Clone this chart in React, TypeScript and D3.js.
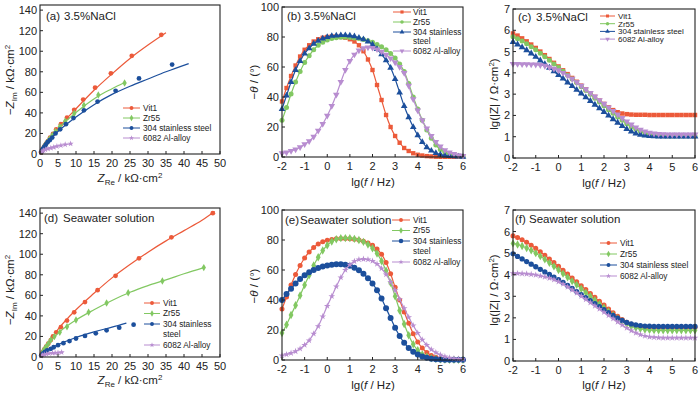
import React from "react";
import * as d3 from "d3";

const RED = "#ec5a3a";
const GREEN = "#82c862";
const BLUE = "#1c4f9c";
const PURPLE = "#b88dd0";
const INK = "#222";
const FONT = "'Liberation Sans', Arial, sans-serif";

const names = ["Vit1", "Zr55", "304 stainless steel", "6082 Al-alloy"];

// lg(f / Hz) sample points used for the Bode plots
const lgF = [
	-2, -1.8, -1.6, -1.4, -1.2, -1, -0.8, -0.6, -0.4, -0.2, 0, 0.2, 0.4, 0.6, 0.8, 1, 1.2, 1.4, 1.6, 1.8, 2,
	2.2, 2.4, 2.6, 2.8, 3, 3.2, 3.4, 3.6, 3.8, 4, 4.2, 4.4, 4.6, 4.8, 5, 5.2, 5.4, 5.6, 5.8, 6,
];

// (b) phase, 3.5% NaCl
const phaseNaClVit1 = [37, 46, 54, 61, 67, 71.5, 74.5, 77, 78.5, 79.5, 80, 80.3, 80.3, 80, 79.5, 78.5, 77, 74.5, 70.5, 65, 58, 48, 38, 28, 20, 14, 9.5, 6, 4, 2.5, 1.5, 1, 0.6, 0.4, 0.2, 0.1, 0.1, 0.1, 0.1, 0.1, 0.1];
const phaseNaClZr55 = [24.5, 33, 42, 50, 57, 63, 67.5, 71.5, 74.5, 76.5, 78, 79, 79.5, 79.8, 79.8, 79.7, 79.4, 79, 78.3, 77.5, 76.5, 75, 73.5, 71.5, 69, 66, 62, 57, 49, 40, 32, 24.5, 18, 12.5, 8, 5, 3, 1.8, 1, 0.6, 0.3];
const phaseNaCl304 = [32, 41, 50, 58, 64, 69, 72.5, 75.5, 77.5, 79, 80, 80.7, 81, 81.2, 81.2, 81, 80.5, 79.5, 78.5, 77, 75, 72, 68.5, 64.5, 59.5, 52, 43, 34, 26.5, 20, 14.5, 10, 6.5, 4.2, 2.6, 1.6, 1, 0.6, 0.4, 0.25, 0.15];
const phaseNaCl6082 = [2.5, 3, 4, 5, 6.5, 8.5, 10.5, 13.5, 17.5, 22, 27.5, 34, 41.5, 50, 58, 64, 68.3, 71, 72.5, 73, 72.8, 71.8, 70.2, 68.2, 65.8, 63, 60, 56, 47.5, 38.5, 31, 24.5, 19, 14, 10, 7, 4.5, 3, 2, 1.3, 0.8];

// (c) lg|Z|, 3.5% NaCl
const modNaClVit1 = [5.85, 5.75, 5.62, 5.48, 5.33, 5.17, 5.0, 4.83, 4.65, 4.47, 4.3, 4.12, 3.94, 3.76, 3.58, 3.4, 3.22, 3.04, 2.87, 2.7, 2.54, 2.38, 2.25, 2.15, 2.09, 2.06, 2.04, 2.03, 2.03, 2.03, 2.02, 2.02, 2.02, 2.02, 2.02, 2.02, 2.02, 2.02, 2.02, 2.02, 2.02];
const modNaClZr55 = [5.7, 5.6, 5.5, 5.37, 5.23, 5.08, 4.92, 4.76, 4.59, 4.42, 4.25, 4.07, 3.89, 3.71, 3.53, 3.35, 3.17, 2.99, 2.81, 2.63, 2.45, 2.27, 2.1, 1.93, 1.77, 1.61, 1.47, 1.35, 1.25, 1.17, 1.11, 1.07, 1.05, 1.04, 1.03, 1.03, 1.03, 1.03, 1.03, 1.03, 1.03];
const modNaCl304 = [5.45, 5.33, 5.2, 5.06, 4.91, 4.75, 4.58, 4.41, 4.24, 4.07, 3.9, 3.73, 3.55, 3.38, 3.2, 3.03, 2.85, 2.68, 2.5, 2.33, 2.16, 1.99, 1.82, 1.66, 1.5, 1.36, 1.24, 1.15, 1.09, 1.05, 1.03, 1.02, 1.01, 1.01, 1.01, 1.01, 1.01, 1.01, 1.01, 1.01, 1.01];
const modNaCl6082 = [4.42, 4.42, 4.41, 4.41, 4.4, 4.39, 4.37, 4.33, 4.27, 4.2, 4.12, 4.0, 3.87, 3.72, 3.56, 3.4, 3.23, 3.06, 2.89, 2.72, 2.55, 2.38, 2.21, 2.04, 1.88, 1.72, 1.57, 1.44, 1.33, 1.25, 1.19, 1.15, 1.13, 1.12, 1.11, 1.1, 1.1, 1.1, 1.1, 1.1, 1.1];

// (e) phase, seawater
const phaseSeaVit1 = [34, 42, 50, 57, 63, 68, 72, 75, 77.3, 78.8, 79.8, 80.4, 80.8, 81, 81, 80.8, 80.5, 80, 79.2, 78, 76.5, 74, 70.5, 65, 57.5, 48.5, 40, 32, 24.5, 17.5, 12, 8, 5, 3, 1.8, 1, 0.6, 0.3, 0.2, 0.1, 0.1];
const phaseSeaZr55 = [18, 23.5, 30, 36.5, 43, 50, 56.5, 63, 68.5, 73, 76.5, 79, 80.5, 81.2, 81.3, 81.2, 80.8, 80, 78.8, 77, 74.5, 71, 66, 59.5, 51.5, 42.5, 33, 24, 16.5, 10.5, 6.5, 3.8, 2.2, 1.2, 0.7, 0.4, 0.2, 0.1, 0.1, 0.1, 0.1];
const phaseSea304 = [40, 44, 47.5, 51, 54, 56.5, 58.5, 60, 61.3, 62.3, 63, 63.5, 63.8, 63.8, 63.5, 62.8, 61.5, 59.8, 57.5, 54.5, 51, 46.5, 41, 34.5, 28, 21.5, 16, 11.5, 8, 5.5, 3.7, 2.4, 1.5, 0.9, 0.5, 0.3, 0.2, 0.1, 0.1, 0.1, 0.1];
const phaseSea6082 = [3, 3.7, 4.6, 5.8, 7.5, 10, 13, 17.5, 22.5, 29, 36, 42.5, 49, 55, 60, 63.5, 65.8, 67, 67.3, 67, 66, 64, 61, 57, 52, 46.5, 40.5, 34.5, 28.5, 23, 18, 13.5, 10, 7, 5, 3.4, 2.3, 1.5, 1, 0.7, 0.5];

// (f) lg|Z|, seawater
const modSeaVit1 = [5.8, 5.72, 5.62, 5.5, 5.37, 5.22, 5.06, 4.9, 4.73, 4.56, 4.39, 4.21, 4.03, 3.85, 3.67, 3.49, 3.31, 3.13, 2.95, 2.77, 2.59, 2.41, 2.24, 2.07, 1.92, 1.8, 1.7, 1.63, 1.59, 1.57, 1.56, 1.55, 1.55, 1.55, 1.55, 1.55, 1.55, 1.55, 1.55, 1.55, 1.55];
const modSeaZr55 = [5.45, 5.4, 5.33, 5.24, 5.13, 5.0, 4.86, 4.71, 4.55, 4.39, 4.22, 4.05, 3.88, 3.7, 3.53, 3.35, 3.17, 3.0, 2.82, 2.64, 2.47, 2.3, 2.13, 1.97, 1.83, 1.71, 1.61, 1.54, 1.49, 1.46, 1.44, 1.43, 1.42, 1.42, 1.42, 1.42, 1.42, 1.42, 1.42, 1.42, 1.42];
const modSea304 = [4.97, 4.85, 4.73, 4.61, 4.49, 4.37, 4.25, 4.13, 4.01, 3.89, 3.77, 3.64, 3.5, 3.36, 3.22, 3.08, 2.94, 2.8, 2.66, 2.52, 2.38, 2.24, 2.11, 1.99, 1.88, 1.79, 1.72, 1.67, 1.64, 1.62, 1.61, 1.6, 1.6, 1.6, 1.6, 1.6, 1.6, 1.6, 1.6, 1.6, 1.6];
const modSea6082 = [4.06, 4.06, 4.05, 4.04, 4.02, 3.99, 3.95, 3.9, 3.84, 3.77, 3.68, 3.57, 3.44, 3.3, 3.16, 3.01, 2.86, 2.71, 2.56, 2.41, 2.26, 2.11, 1.96, 1.81, 1.67, 1.53, 1.41, 1.3, 1.22, 1.16, 1.12, 1.1, 1.08, 1.07, 1.07, 1.07, 1.07, 1.07, 1.07, 1.07, 1.07];

// (a) Nyquist, 3.5% NaCl: [Z_Re, -Z_Im] in kΩ·cm², measured points and fitted curves
const nyqNaClVit1 = [[0.3, 1.5], [0.5, 3], [0.7, 4.5], [1, 6], [1.3, 8], [1.7, 10], [2.2, 12.5], [2.8, 16], [3.6, 19.5], [4.5, 24], [5.8, 29], [7.5, 35.5], [9.5, 43], [12, 53], [15.3, 64.5], [19.7, 78.5], [25.5, 95.5], [33.7, 116]];
const nyqNaClZr55 = [[0.5, 3], [0.8, 5], [1.1, 7], [1.5, 9], [2, 11.5], [2.6, 14.5], [3.4, 18], [4.3, 22], [5.5, 26.5], [7, 32], [9.5, 39.5], [12.2, 47.5], [16.2, 57.5], [23.5, 69]];
const nyqNaCl304 = [[0.5, 3], [0.8, 5], [1.2, 7], [1.6, 9], [2.1, 11.5], [2.7, 13.5], [3.4, 16], [4.3, 20], [5.6, 24], [7.2, 29], [9.3, 35], [12.2, 42.5], [16, 51], [21, 61.5], [27.5, 73.5], [36.7, 87]];
const nyqNaCl6082 = [[0.3, 1.5], [0.6, 2.5], [1, 3.5], [1.5, 4.3], [2.2, 5], [3, 5.8], [3.8, 6.5], [4.7, 7.5], [5.8, 8.3], [7, 9.2], [8.5, 10]];
const fitNaClVit1 = [[0, 2], [2, 11], [5, 25], [10, 44], [15, 62], [20, 78], [25, 93], [30, 106], [35, 118]];
const fitNaClZr55 = [[0, 2], [3, 16], [6, 28], [9, 37.5], [12, 46], [16, 56], [20, 63.5], [23.5, 69.5]];
const fitNaCl304 = [[0, 2], [3, 15], [6, 25], [10, 36], [15, 48], [20, 58], [25, 66], [30, 73], [35, 80], [41.3, 88]];
const fitNaCl6082 = [[0, 1], [1, 3.5], [2, 5], [4, 7], [6, 8.5], [9, 10]];

// (d) Nyquist, seawater
const nyqSeaVit1 = [[0.5, 3], [0.8, 5], [1.2, 7.5], [1.7, 10], [2.3, 13], [3, 16.5], [3.6, 20], [4.5, 24], [5.8, 29], [7.5, 35.5], [9.5, 43.5], [12.5, 53.5], [16, 65], [21, 79], [27.5, 96], [36.5, 116.5], [48, 140]];
const nyqSeaZr55 = [[0.5, 3], [0.8, 5], [1.2, 7.5], [1.7, 10], [2.3, 13], [3, 16.5], [4, 20], [5.5, 24], [7.5, 29.5], [10, 36], [13.5, 43.5], [18.5, 52.5], [24.5, 62.5], [34, 74], [45.5, 87]];
const nyqSea304 = [[0.5, 2], [0.9, 3.5], [1.4, 5], [2, 6.5], [3, 8], [3.8, 9.5], [5, 11.5], [6.5, 13.5], [8.2, 15.5], [10, 18], [12.5, 20.5], [15.5, 23], [18.5, 26], [22, 28.5], [26, 31.5]];
const nyqSea6082 = [[0.3, 1], [0.7, 1.8], [1.2, 2.5], [1.8, 3], [2.5, 3.5], [3.5, 3.8], [4.2, 4], [5, 4.2], [6, 4.5]];
const fitSeaVit1 = [[0, 2], [5, 27], [10, 46], [15, 62], [20, 77], [25, 90], [30, 102], [35, 113], [40, 123], [45, 133], [48.5, 141.5]];
const fitSeaZr55 = [[0, 2], [5, 23], [10, 36], [15, 46], [20, 55], [25, 63], [30, 69.5], [35, 75], [40, 81], [45.5, 87]];
const fitSea304 = [[0, 1.5], [3, 8.5], [6, 13.5], [10, 19], [15, 24.5], [20, 29], [24, 33]];
const fitSea6082 = [[0, 0.5], [1, 2.3], [2, 3.2], [4, 4], [6.5, 4.6]];

const nyqXTicks = [0, 5, 10, 15, 20, 25, 30, 35, 40, 45, 50];
const nyqYTicks = [0, 20, 40, 60, 80, 100, 120, 140];
const lgXTicks = [-2, -1, 0, 1, 2, 3, 4, 5, 6];
const phaseYTicks = [0, 20, 40, 60, 80, 100];
const modYTicks = [0, 1, 2, 3, 4, 5, 6, 7];

type Box = { l: number; r: number; t: number; b: number };
type Shape = "square" | "circle" | "up" | "down" | "diamond" | "star";

const symbolTypes: Record<Shape, d3.SymbolType> = {
	square: d3.symbolSquare,
	circle: d3.symbolCircle,
	up: d3.symbolTriangle,
	down: d3.symbolTriangle,
	diamond: d3.symbolDiamond,
	star: d3.symbolStar,
};

function Marker({ shape, size, color, x, y }: { shape: Shape; size: number; color: string; x: number; y: number }) {
	const d = d3.symbol().type(symbolTypes[shape]).size(size)() as string;
	const rot = shape === "down" ? " rotate(180)" : "";
	return <path d={d} fill={color} transform={`translate(${x},${y})${rot}`} />;
}

function Axes({ box, x, y, xTicks, yTicks }: { box: Box; x: any; y: any; xTicks: number[]; yTicks: number[] }) {
	return (
		<g fontFamily={FONT} fontSize={11} fill={INK}>
			<rect x={box.l} y={box.t} width={box.r - box.l} height={box.b - box.t} fill="none" stroke={INK} strokeWidth={1.1} />
			{xTicks.map((t) => (
				<g key={"x" + t}>
					<line x1={x(t)} x2={x(t)} y1={box.b} y2={box.b - 3} stroke={INK} />
					<text x={x(t)} y={box.b + 13} textAnchor="middle">
						{t}
					</text>
				</g>
			))}
			{yTicks.map((t) => (
				<g key={"y" + t}>
					<line x1={box.l} x2={box.l + 3} y1={y(t)} y2={y(t)} stroke={INK} />
					<text x={box.l - 3} y={y(t) + 4} textAnchor="end">
						{t}
					</text>
				</g>
			))}
		</g>
	);
}

type LegendItem = { label: string[]; color: string; shape: Shape; size: number };

function Legend({ x1, x2, tx, rows, items, fontSize }: { x1: number; x2: number; tx: number; rows: number[]; items: LegendItem[]; fontSize: number }) {
	let r = 0;
	return (
		<g fontFamily={FONT} fontSize={fontSize} fill={INK}>
			{items.map((it, i) => {
				const yy = rows[r];
				const lines = it.label.map((s, k) => (
					<text key={k} x={tx} y={rows[r + k] + fontSize * 0.36}>
						{s}
					</text>
				));
				r += it.label.length;
				return (
					<g key={i}>
						<line x1={x1} x2={x2} y1={yy} y2={yy} stroke={it.color} strokeWidth={1} />
						<Marker shape={it.shape} size={it.size} color={it.color} x={(x1 + x2) / 2} y={yy} />
						{lines}
					</g>
				);
			})}
		</g>
	);
}

type BodeSeries = { values: number[]; color: string; shape: Shape; size: number };

function BodePanel({ box, yMax, yTicks, series }: { box: Box; yMax: number; yTicks: number[]; series: BodeSeries[] }) {
	const x = d3.scaleLinear().domain([-2, 6]).range([box.l, box.r]);
	const y = d3.scaleLinear().domain([0, yMax]).range([box.b, box.t]);
	const line = d3
		.line<number>()
		.x((_, i) => x(lgF[i]))
		.y((d) => y(d))
		.curve(d3.curveMonotoneX);
	return (
		<g>
			{series.map((s, si) => (
				<g key={si}>
					<path d={line(s.values) as string} fill="none" stroke={s.color} strokeWidth={1.2} />
					{s.values.map((v, i) => (
						<Marker key={i} shape={s.shape} size={s.size} color={s.color} x={x(lgF[i])} y={y(v)} />
					))}
				</g>
			))}
			<Axes box={box} x={x} y={y} xTicks={lgXTicks} yTicks={yTicks} />
		</g>
	);
}

type NyqSeries = { pts: number[][]; fit: number[][]; color: string; shape: Shape; size: number };

function NyquistPanel({ box, series }: { box: Box; series: NyqSeries[] }) {
	const x = d3.scaleLinear().domain([0, 50]).range([box.l, box.r]);
	const y = d3.scaleLinear().domain([0, 145]).range([box.b, box.t]);
	const line = d3
		.line<number[]>()
		.x((d) => x(d[0]))
		.y((d) => y(d[1]))
		.curve(d3.curveMonotoneX);
	return (
		<g>
			{series.map((s, si) => (
				<g key={si}>
					<path d={line(s.fit) as string} fill="none" stroke={s.color} strokeWidth={1.2} />
					{s.pts.map((p, i) => (
						<Marker key={i} shape={s.shape} size={s.size} color={s.color} x={x(p[0])} y={y(p[1])} />
					))}
				</g>
			))}
			<Axes box={box} x={x} y={y} xTicks={nyqXTicks} yTicks={nyqYTicks} />
		</g>
	);
}

function PanelLabel({ x, y, tag, text, gap }: { x: number; y: number; tag: string; text: string; gap: number }) {
	return (
		<g fontFamily={FONT} fontSize={11.5} fill={INK}>
			<text x={x} y={y}>{tag}</text>
			<text x={x + gap} y={y}>{text}</text>
		</g>
	);
}

function NyqYTitle({ cx, cy }: { cx: number; cy: number }) {
	return (
		<text transform={`translate(${cx},${cy}) rotate(-90)`} textAnchor="middle" fontFamily={FONT} fontSize={11.5} fill={INK}>
			<tspan>−</tspan>
			<tspan fontStyle="italic">Z</tspan>
			<tspan fontSize={8} dy={3}>Im</tspan>
			<tspan dy={-3}> / kΩ·cm</tspan>
			<tspan fontSize={8} dy={-4}>2</tspan>
		</text>
	);
}

function NyqXTitle({ cx, cy }: { cx: number; cy: number }) {
	return (
		<text x={cx} y={cy} textAnchor="middle" fontFamily={FONT} fontSize={11.5} fill={INK}>
			<tspan fontStyle="italic">Z</tspan>
			<tspan fontSize={8} dy={3}>Re</tspan>
			<tspan dy={-3}> / kΩ·cm</tspan>
			<tspan fontSize={8} dy={-4}>2</tspan>
		</text>
	);
}

function LgXTitle({ cx, cy }: { cx: number; cy: number }) {
	return (
		<text x={cx} y={cy} textAnchor="middle" fontFamily={FONT} fontSize={11.5} fill={INK}>
			<tspan>lg(</tspan>
			<tspan fontStyle="italic">f</tspan>
			<tspan> / Hz)</tspan>
		</text>
	);
}

function PhaseYTitle({ cx, cy }: { cx: number; cy: number }) {
	return (
		<text transform={`translate(${cx},${cy}) rotate(-90)`} textAnchor="middle" fontFamily={FONT} fontSize={11.5} fill={INK}>
			<tspan>−</tspan>
			<tspan fontStyle="italic">θ</tspan>
			<tspan> / (°)</tspan>
		</text>
	);
}

function ModYTitle({ cx, cy }: { cx: number; cy: number }) {
	return (
		<text transform={`translate(${cx},${cy}) rotate(-90)`} textAnchor="middle" fontFamily={FONT} fontSize={11.5} fill={INK}>
			<tspan>lg(|Z| / Ω·cm</tspan>
			<tspan fontSize={8} dy={-4}>2</tspan>
			<tspan dy={4}>)</tspan>
		</text>
	);
}

export default function App() {
	const boxA = { l: 40, r: 220, t: 5, b: 154 };
	const boxB = { l: 282, r: 463, t: 7, b: 157 };
	const boxC = { l: 513, r: 695, t: 9, b: 158 };
	const boxD = { l: 40, r: 220, t: 208, b: 357 };
	const boxE = { l: 282, r: 463, t: 210, b: 360 };
	const boxF = { l: 513, r: 695, t: 210, b: 361 };

	const bodeShapesNaCl: Shape[] = ["square", "circle", "up", "down"];
	const nyqShapes: Shape[] = ["circle", "diamond", "circle", "star"];
	const colors = [RED, GREEN, BLUE, PURPLE];

	const legendItems = (shapes: Shape[], sizes: number[], split: boolean): LegendItem[] =>
		names.map((n, i) => ({
			label: split && i === 2 ? ["304 stainless", "steel"] : [n],
			color: colors[i],
			shape: shapes[i],
			size: sizes[i],
		}));

	return (
		<svg width={700} height={394} style={{ display: "block", position: "absolute", left: 0, top: 0 }}>
			<rect width={700} height={394} fill="#fff" />

			{/* (a) */}
			<NyquistPanel
				box={boxA}
				series={[
					{ pts: nyqNaClVit1, fit: fitNaClVit1, color: RED, shape: "circle", size: 18 },
					{ pts: nyqNaClZr55, fit: fitNaClZr55, color: GREEN, shape: "diamond", size: 16 },
					{ pts: nyqNaCl304, fit: fitNaCl304, color: BLUE, shape: "circle", size: 18 },
					{ pts: nyqNaCl6082, fit: fitNaCl6082, color: PURPLE, shape: "star", size: 12 },
				]}
			/>
			<PanelLabel x={46} y={20} tag="(a)" text="3.5%NaCl" gap={18} />
			<Legend x1={123} x2={140} tx={143} rows={[108, 118, 128, 138]} items={legendItems(nyqShapes, [12, 12, 12, 8], false)} fontSize={8.3} />
			<NyqYTitle cx={14} cy={80} />
			<NyqXTitle cx={130} cy={182} />

			{/* (b) */}
			<BodePanel
				box={boxB}
				yMax={100}
				yTicks={phaseYTicks}
				series={[
					{ values: phaseNaClVit1, color: RED, shape: "square", size: 19 },
					{ values: phaseNaClZr55, color: GREEN, shape: "circle", size: 20 },
					{ values: phaseNaCl304, color: BLUE, shape: "up", size: 19 },
					{ values: phaseNaCl6082, color: PURPLE, shape: "down", size: 19 },
				]}
			/>
			<PanelLabel x={287} y={20} tag="(b)" text="3.5%NaCl" gap={17} />
			<Legend x1={393} x2={411} tx={413} rows={[12, 22, 32, 41, 51]} items={legendItems(bodeShapesNaCl, [10, 10, 10, 10], true)} fontSize={8.3} />
			<PhaseYTitle cx={258} cy={82} />
			<LgXTitle cx={373} cy={186} />

			{/* (c) */}
			<BodePanel
				box={boxC}
				yMax={7}
				yTicks={modYTicks}
				series={[
					{ values: modNaClVit1, color: RED, shape: "square", size: 20 },
					{ values: modNaClZr55, color: GREEN, shape: "circle", size: 20 },
					{ values: modNaCl304, color: BLUE, shape: "up", size: 20 },
					{ values: modNaCl6082, color: PURPLE, shape: "down", size: 20 },
				]}
			/>
			<PanelLabel x={518} y={21} tag="(c)" text="3.5%NaCl" gap={18} />
			<Legend x1={600} x2={615} tx={618} rows={[16, 23.7, 31.4, 39.1]} items={legendItems(bodeShapesNaCl, [9, 9, 9, 9], false)} fontSize={8} />
			<ModYTitle cx={498} cy={94} />
			<LgXTitle cx={604} cy={187} />

			{/* (d) */}
			<NyquistPanel
				box={boxD}
				series={[
					{ pts: nyqSeaVit1, fit: fitSeaVit1, color: RED, shape: "circle", size: 18 },
					{ pts: nyqSeaZr55, fit: fitSeaZr55, color: GREEN, shape: "diamond", size: 16 },
					{ pts: nyqSea304, fit: fitSea304, color: BLUE, shape: "circle", size: 18 },
					{ pts: nyqSea6082, fit: fitSea6082, color: PURPLE, shape: "star", size: 12 },
				]}
			/>
			<PanelLabel x={44} y={222} tag="(d)" text="Seawater solution" gap={19} />
			<Legend x1={144} x2={160} tx={163} rows={[303, 313.5, 324, 334.5, 345]} items={legendItems(nyqShapes, [12, 12, 12, 8], true)} fontSize={8.3} />
			<NyqYTitle cx={14} cy={290} />
			<NyqXTitle cx={130} cy={384} />

			{/* (e) */}
			<BodePanel
				box={boxE}
				yMax={100}
				yTicks={phaseYTicks}
				series={[
					{ values: phaseSeaVit1, color: RED, shape: "circle", size: 20 },
					{ values: phaseSeaZr55, color: GREEN, shape: "diamond", size: 20 },
					{ values: phaseSea304, color: BLUE, shape: "circle", size: 28 },
					{ values: phaseSea6082, color: PURPLE, shape: "star", size: 14 },
				]}
			/>
			<PanelLabel x={285} y={224} tag="(e)" text="Seawater solution" gap={15} />
			<Legend x1={392} x2={410} tx={413} rows={[220, 230.5, 241, 251.5, 262]} items={legendItems(nyqShapes, [12, 12, 16, 8], true)} fontSize={8.3} />
			<PhaseYTitle cx={258} cy={286} />
			<LgXTitle cx={373} cy={389} />

			{/* (f) */}
			<BodePanel
				box={boxF}
				yMax={7}
				yTicks={modYTicks}
				series={[
					{ values: modSeaVit1, color: RED, shape: "circle", size: 20 },
					{ values: modSeaZr55, color: GREEN, shape: "diamond", size: 20 },
					{ values: modSea304, color: BLUE, shape: "circle", size: 22 },
					{ values: modSea6082, color: PURPLE, shape: "star", size: 14 },
				]}
			/>
			<PanelLabel x={515} y={223} tag="(f)" text="Seawater solution" gap={14} />
			<Legend x1={600} x2={617} tx={620} rows={[243, 254, 265, 276]} items={legendItems(nyqShapes, [12, 12, 12, 8], false)} fontSize={8.3} />
			<ModYTitle cx={498} cy={290} />
			<LgXTitle cx={604} cy={389} />
		</svg>
	);
}
